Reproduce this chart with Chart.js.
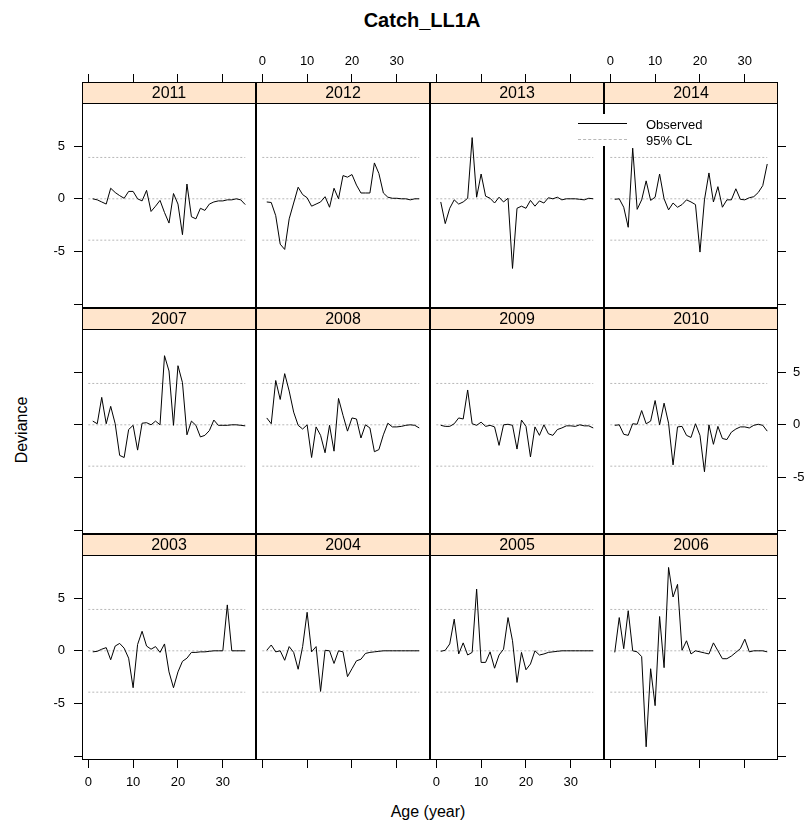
<!DOCTYPE html>
<html>
<head>
<meta charset="utf-8">
<script src="https://cdn.jsdelivr.net/npm/chart.js@4.4.1/dist/chart.umd.min.js"></script>
<style>
  body { margin: 0; background: #fff; font-family: "Liberation Sans", Arial, sans-serif; }
  #wrap { position: relative; width: 807px; height: 825px; overflow: hidden; background: #fff; }
  #wrap canvas { position: absolute; }
  .txt { position: absolute; color: #000; white-space: nowrap; transform: translate(-50%, -50%); }
  #key { position: absolute; left: 574px; top: 114px; width: 140px; height: 32px; background: #fff; }
  #key .ln { position: absolute; left: 4px; width: 49px; height: 0; }
  #key .lb { position: absolute; left: 72px; font-size: 13px; line-height: 15px; color: #000; }
</style>
</head>
<body>
<div id="wrap">
  <div class="txt" style="left:422px; top:20px; font-size:20px; font-weight:bold;">Catch_LL1A</div>
  <div class="txt" style="left:22px; top:430px; font-size:16px; transform: translate(-50%, -50%) rotate(-90deg);">Deviance</div>
  <div class="txt" style="left:428px; top:812px; font-size:16px;">Age (year)</div>
</div>
<script>
// ages on the x axis
const ages = [1, 2, 3, 4, 5, 6, 7, 8, 9, 10, 11, 12, 13, 14, 15, 16, 17, 18,
              19, 20, 21, 22, 23, 24, 25, 26, 27, 28, 29, 30, 31, 32, 33, 34, 35];
const xTicks = [0, 10, 20, 30];
const yTicks = [-10, -5, 0, 5];
const ciLimit = 3.92;   // 95% CL band
const ciRange = [0, 35];

// deviance per age, one array per year
const dev2011 = [0.0, -0.1, -0.3, -0.5, 1.0, 0.6, 0.3, 0.05, 0.7, 0.7, 0.0, -0.2, 0.8, -1.2, -0.7, -0.15, -1.3, -2.3,
                 0.5, -0.5, -3.4, 1.4, -1.7, -1.9, -0.9, -1.1, -0.5, -0.3, -0.2, -0.2, -0.1, -0.1, 0.0, -0.1, -0.55];
const dev2012 = [-0.3, -0.35, -1.6, -4.3, -4.8, -1.9, -0.4, 1.1, 0.4, 0.1, -0.7, -0.5, -0.3, 0.2, -0.8, 1.0, 0.0, 2.2,
                 2.05, 2.3, 1.3, 0.55, 0.55, 0.55, 3.4, 2.4, 0.55, 0.15, 0.05, 0.05, 0.0, 0.0, -0.1, 0.0, 0.0];
const dev2013 = [-0.3, -2.35, -0.9, -0.1, -0.5, -0.3, 0.05, 5.8, 0.15, 2.35, 0.25, 0.05, -0.4, 0.15, -0.3, 0.05, -6.6, -0.9,
                 -0.7, -0.9, -0.15, -0.7, -0.2, -0.4, 0.1, 0.0, 0.15, -0.1, 0.0, 0.0, 0.0, -0.05, -0.1, 0.05, 0.0];
const dev2014 = [-0.05, 0.0, -0.8, -2.7, 4.8, -1.0, -0.1, 1.7, -0.15, 0.15, 2.35, 0.0, -1.05, -0.4, -0.8, -0.55, -0.1, -0.3,
                 -0.55, -5.05, -0.1, 2.45, -0.3, 1.15, -0.8, -0.1, -0.1, 0.95, -0.05, -0.1, 0.1, 0.2, 0.6, 1.25, 3.3];
const dev2007 = [0.35, 0.1, 2.6, 0.1, 1.75, 0.1, -2.9, -3.1, -0.45, -0.05, -2.4, 0.15, 0.2, 0.0, 0.35, 0.0, 6.55, 5.1,
                 -0.05, 5.6, 4.0, -0.95, 0.35, -0.05, -1.15, -1.0, -0.55, 0.45, -0.05, -0.05, -0.05, 0.0, 0.0, -0.05, -0.1];
const dev2008 = [0.65, 0.1, 4.2, 2.4, 4.85, 3.2, 1.2, -0.05, -0.4, 0.0, -3.1, -0.2, -1.0, -2.65, -0.05, -2.5, 2.5, 0.9,
                 -0.6, 0.65, 0.55, -1.25, 0.0, -0.3, -2.55, -2.35, -0.95, 0.15, -0.2, -0.2, -0.15, -0.05, 0.0, -0.05, -0.3];
const dev2009 = [-0.05, -0.15, -0.15, 0.1, 0.65, 0.55, 3.3, 0.1, -0.05, 0.25, -0.15, -0.05, -0.2, -1.95, 0.0, 0.05, -0.05, -2.3,
                 0.45, -0.15, -3.05, -0.2, -1.0, 0.0, -0.85, -1.0, -0.45, -0.3, -0.1, -0.1, -0.15, 0.0, -0.1, -0.1, -0.3];
const dev2010 = [-0.05, 0.0, -0.9, -1.0, 0.1, 0.05, 1.35, 0.1, 0.35, 2.3, 0.0, 2.05, 0.15, -3.8, -0.2, -0.15, -1.0, -1.2,
                 0.1, -1.0, -4.45, 0.0, -1.85, -0.15, -1.3, -1.4, -0.7, -0.4, -0.2, -0.2, -0.3, -0.05, 0.05, -0.05, -0.6];
const dev2003 = [-0.1, -0.05, 0.15, 0.3, -0.85, 0.45, 0.7, 0.25, -0.7, -3.5, 0.6, 1.85, 0.45, 0.15, 0.4, -0.15, 0.65, -2.0,
                 -3.5, -2.0, -1.0, -0.7, -0.15, -0.15, -0.1, -0.1, -0.05, 0.0, 0.0, 0.0, 4.35, 0.0, 0.0, 0.0, 0.0];
const dev2004 = [0.05, 0.55, -0.1, 0.0, -0.9, 0.4, -0.15, -1.75, 0.4, 3.65, -0.1, 0.4, -3.85, 0.05, 0.0, -1.2, 0.0, -0.1,
                 -2.45, -1.7, -0.95, -0.8, -0.25, -0.15, -0.1, -0.05, 0.0, 0.0, 0.0, 0.0, 0.0, 0.0, 0.0, 0.0, 0.0];
const dev2005 = [-0.05, 0.05, 0.65, 3.0, -0.3, 0.75, -0.4, -0.15, 5.85, -1.1, -1.1, -0.1, -1.65, -0.4, 0.15, 3.15, 0.95, -3.0,
                 -0.15, -1.8, -1.25, 0.0, -0.4, -0.3, -0.15, -0.1, -0.05, 0.0, 0.0, 0.0, 0.0, 0.0, 0.0, 0.0, 0.0];
const dev2006 = [-0.15, 3.15, 0.2, 3.8, 0.0, -0.1, -0.55, -9.1, -1.7, -5.2, 3.25, -1.6, 7.9, 5.1, 6.3, 0.05, 0.95, -0.3,
                 0.0, -0.1, -0.2, -0.3, 0.75, 0.0, -0.75, -0.75, -0.5, -0.15, 0.2, 1.1, -0.1, 0.0, 0.0, 0.0, -0.1];

// lattice layout: top row first
const panelRows = [
  [['2011', dev2011], ['2012', dev2012], ['2013', dev2013], ['2014', dev2014]],
  [['2007', dev2007], ['2008', dev2008], ['2009', dev2009], ['2010', dev2010]],
  [['2003', dev2003], ['2004', dev2004], ['2005', dev2005], ['2006', dev2006]]
];

Chart.defaults.font.family = '"Liberation Sans", Arial, sans-serif';
Chart.defaults.color = '#000';

const COL_X = [82, 256, 430, 604];
const ROW_Y = [82, 308, 534];   // strip tops
const PW = 174, PH = 205, STRIP = 21, M = 40;

// strip + panel box
const panelFrame = {
  id: 'panelFrame',
  afterDraw(chart, args, opts) {
    const ctx = chart.ctx, a = chart.chartArea, s = chart.scales.strip;
    ctx.save();
    ctx.fillStyle = '#ffe5cc';
    ctx.fillRect(a.left, s.top, a.right - a.left, s.bottom - s.top);
    ctx.strokeStyle = '#000';
    ctx.lineWidth = 1;
    ctx.strokeRect(a.left + 0.5, s.top + 0.5, a.right - a.left - 1, s.bottom - s.top);
    ctx.strokeRect(a.left + 0.5, a.top + 0.5, a.right - a.left - 1, a.bottom - a.top - 1);
    ctx.fillStyle = '#000';
    ctx.font = '16px "Liberation Sans", Arial, sans-serif';
    ctx.textAlign = 'center';
    ctx.textBaseline = 'middle';
    ctx.fillText(opts.label, (a.left + a.right) / 2, (s.top + s.bottom) / 2 + 1);
    ctx.restore();
  }
};

function refLine(v) {
  return {
    data: ciRange.map(x => ({ x: x, y: v })),
    borderColor: '#b8b8b8',
    borderWidth: 1,
    borderDash: [2, 2],
    pointRadius: 0
  };
}

function makePanel(row, col, year, values) {
  const wrap = document.getElementById('wrap');
  const canvas = document.createElement('canvas');
  const w = PW + 2 * M, h = STRIP + PH + 2 * M;
  canvas.width = w; canvas.height = h;
  canvas.style.width = w + 'px'; canvas.style.height = h + 'px';
  canvas.style.left = (COL_X[col] - M) + 'px';
  canvas.style.top = (ROW_Y[row] - M) + 'px';
  wrap.appendChild(canvas);

  // lattice alternates the labelled side
  const xShow = row !== 1;
  const yShow = col === 0 || col === 3;
  const xLab = (row === 0 && col % 2 === 1) || (row === 2 && col % 2 === 0);
  const yLab = (col === 0 && row !== 1) || (col === 3 && row === 1);

  new Chart(canvas, {
    type: 'line',
    data: {
      datasets: [
        {
          data: ages.map((a, i) => ({ x: a, y: values[i] })),
          borderColor: '#000',
          borderWidth: 1,
          pointRadius: 0,
          tension: 0
        },
        refLine(ciLimit), refLine(0), refLine(-ciLimit)
      ]
    },
    options: {
      responsive: false,
      animation: false,
      devicePixelRatio: 1,
      events: [],
      layout: {
        padding: {
          top: row === 0 ? 0 : M,
          bottom: row === 2 ? 0 : M,
          left: col === 0 ? 0 : M,
          right: col === 3 ? 0 : M
        }
      },
      plugins: {
        legend: { display: false },
        tooltip: { enabled: false },
        panelFrame: { label: year }
      },
      scales: {
        x: {
          type: 'linear',
          min: -1.4, max: 37.4,
          display: xShow,
          position: row === 0 ? 'top' : 'bottom',
          weight: 1,
          afterFit: s => { s.height = xShow ? M : 0; },
          afterBuildTicks: s => { s.ticks = xTicks.map(v => ({ value: v })); },
          border: { display: false },
          grid: { drawOnChartArea: false, drawTicks: true, tickLength: 8, tickColor: '#000', color: '#000' },
          ticks: {
            autoSkip: false, maxRotation: 0,
            padding: row === 0 ? 5 : 7,
            font: { size: 13 },
            color: '#000',
            callback: v => xLab ? String(v) : ''
          }
        },
        y: {
          type: 'linear',
          min: -10.35, max: 9.08,
          display: yShow,
          position: col === 3 ? 'right' : 'left',
          afterFit: s => { s.width = yShow ? M : 0; },
          afterBuildTicks: s => { s.ticks = yTicks.map(v => ({ value: v })); },
          border: { display: false },
          grid: { drawOnChartArea: false, drawTicks: true, tickLength: 8, tickColor: '#000', color: '#000' },
          ticks: {
            padding: col === 3 ? 7 : 9,
            font: { size: 13 },
            color: '#000',
            callback: v => (yLab && v !== -10) ? String(v) : ''
          }
        },
        strip: {
          type: 'linear',
          position: 'top',
          weight: 0,
          min: 0, max: 1,
          afterFit: s => { s.height = STRIP; },
          border: { display: false },
          grid: { display: false },
          ticks: { display: false }
        }
      }
    },
    plugins: [panelFrame]
  });
}

panelRows.forEach((cols, r) => cols.forEach(([year, vals], c) => makePanel(r, c, year, vals)));

// key sits over the 2013/2014 boundary, as in the original
const key = document.createElement('div');
key.id = 'key';
key.innerHTML =
  '<div class="ln" style="top:9px; border-top:1px solid #000;"></div>' +
  '<div class="lb" style="top:3px;">Observed</div>' +
  '<div class="ln" style="top:25px; border-top:1px dashed #b8b8b8;"></div>' +
  '<div class="lb" style="top:19px;">95% CL</div>';
document.getElementById('wrap').appendChild(key);
</script>
</body>
</html>
